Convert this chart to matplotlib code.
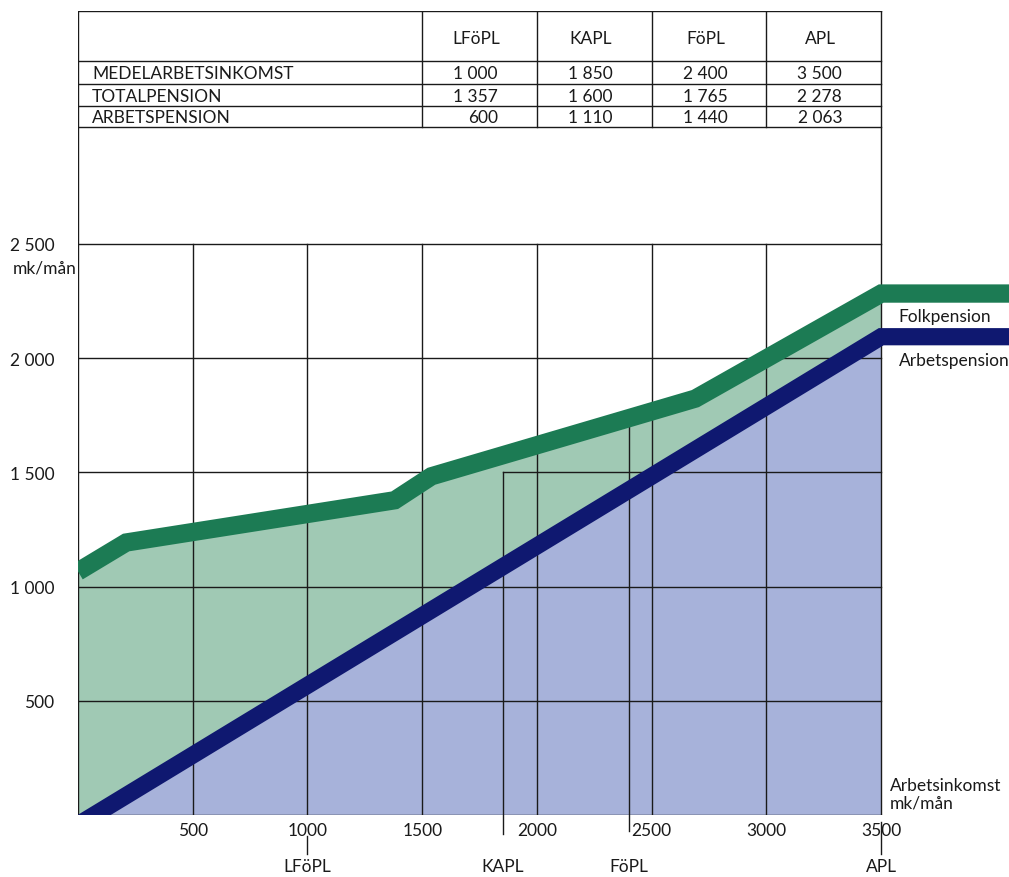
import numpy as np
import matplotlib
matplotlib.use("Agg")
import matplotlib.pyplot as plt

plt.rcParams['font.family'] = ['Lato', 'DejaVu Sans']

# table data
col_names = ["LFöPL", "KAPL", "FöPL", "APL"]
row_names = ["MEDELARBETSINKOMST", "TOTALPENSION", "ARBETSPENSION"]
medel = ["1 000", "1 850", "2 400", "3 500"]
total = ["1 357", "1 600", "1 765", "2 278"]
arbets = ["600", "1 110", "1 440", "2 063"]

# band centre lines (mk/mån)
green_x = [0, 210, 1380, 1540, 2690, 3500, 4300]
green_y = [1066, 1193, 1378, 1483, 1823, 2283, 2283]
blue_x = [0, 3500, 4300]
blue_y = [-43, 2094, 2094]

xticks = [500, 1000, 1500, 2000, 2500, 3000, 3500]
yticks = [500, 1000, 1500, 2000, 2500]
ytick_labels = ["500", "1 000", "1 500", "2 000", "2 500"]
markers = [1000, 1850, 2400, 3500]
marker_names = ["LFöPL", "KAPL", "FöPL", "APL"]

DARK_GREEN = "#1c7b54"
LIGHT_GREEN = "#a0c9b4"
NAVY = "#0f1870"
LIGHT_BLUE = "#a7b2da"
INK = "#1a1a1a"
FS = 12.5

fig = plt.figure(figsize=(10.09, 8.78), dpi=100)
ax = fig.add_axes([78/1009, 62/878, 931/1009, 804/878])
ax.set_xlim(0, 4057)
ax.set_ylim(0, 3520)
for s in ax.spines.values():
    s.set_visible(False)

lw = 1.0
# fills
gx = [x for x in green_x if x <= 3500]
gy = green_y[:len(gx)]
bx = [x for x in blue_x if x <= 3500]
by = blue_y[:len(bx)]
ax.fill(gx + bx[::-1], gy + by[::-1], color=LIGHT_GREEN, lw=0, zorder=1)
ax.fill(bx + [3500, 0], by + [0, 0], color=LIGHT_BLUE, lw=0, zorder=1)

# grid
for v in [500, 1000, 1500, 2000, 2500, 3000]:
    ax.plot([v, v], [0, 2500], color=INK, lw=lw, zorder=2)
for h in [500, 1000, 2000, 2500]:
    ax.plot([0, 3500], [h, h], color=INK, lw=lw, zorder=2)
ax.plot([0, 1500], [1500, 1500], color=INK, lw=lw, zorder=2)
ax.plot([1850, 3500], [1500, 1500], color=INK, lw=lw, zorder=2)
ax.plot([0, 3500], [0, 0], color=INK, lw=lw, zorder=2)
ax.plot([0, 0], [0, 3520], color=INK, lw=lw, zorder=2)
ax.plot([3500, 3500], [0, 3520], color=INK, lw=lw, zorder=2)

# table lines
row_lines = [3520, 3301, 3200, 3104, 3012]
for r in row_lines:
    ax.plot([0, 3500], [r, r], color=INK, lw=lw, zorder=2)
col_edges = [1500, 2000, 2500, 3000, 3500]
for c in col_edges[:-1]:
    ax.plot([c, c], [3012, 3520], color=INK, lw=lw, zorder=2)

row_mid = [3250, 3149, 3054]
for name, ym in zip(row_names, row_mid):
    ax.text(61, ym, name, fontsize=FS, color=INK, va="center", ha="left")
for i, cn in enumerate(col_names):
    cmid = (col_edges[i] + col_edges[i + 1]) / 2
    ax.text(cmid - 15, 3400, cn, fontsize=FS, color=INK, va="center", ha="center")
    for vals, ym in zip([medel, total, arbets], row_mid):
        ax.text(cmid + 80, ym, vals[i], fontsize=FS, color=INK, va="center", ha="right")

# marker lines under the axis
ax.plot([1850, 1850], [-83, 1500], color=INK, lw=lw, zorder=2, clip_on=False)
ax.plot([2400, 2400], [-70, 1750], color=INK, lw=lw, zorder=2, clip_on=False)
ax.plot([1000, 1000], [-92, -171], color=INK, lw=lw, clip_on=False)
ax.plot([3500, 3500], [-31, -171], color=INK, lw=lw, clip_on=False)
for m, nm in zip(markers, marker_names):
    ax.text(m, -222, nm, fontsize=FS, color=INK, ha="center", va="center")

# bands
ax.plot(green_x, green_y, color=DARK_GREEN, lw=13.2, solid_joinstyle="miter",
        solid_capstyle="butt", zorder=4)
ax.plot(blue_x, blue_y, color=NAVY, lw=12.4, solid_joinstyle="miter",
        solid_capstyle="butt", zorder=5)

# ticks
ax.set_xticks(xticks)
ax.set_xticklabels([str(t) for t in xticks], fontsize=FS, color=INK)
ax.set_yticks(yticks)
ax.set_yticklabels(ytick_labels, fontsize=FS, color=INK)
ax.tick_params(axis="x", length=0, pad=5)
ax.tick_params(axis="y", length=0, pad=17)
fig.text(13/1009, (878-268)/878, "mk/mån", fontsize=FS, color=INK, ha="left", va="center")

ax.text(3538, 92, "Arbetsinkomst\nmk/mån", fontsize=FS, color=INK, ha="left",
        va="center", linespacing=1.15)
ax.text(3577, 2185, "Folkpension", fontsize=FS, color=INK, ha="left", va="center")
ax.text(3577, 1992, "Arbetspension", fontsize=FS, color=INK, ha="left", va="center")

fig.savefig("out.png", dpi=100)
